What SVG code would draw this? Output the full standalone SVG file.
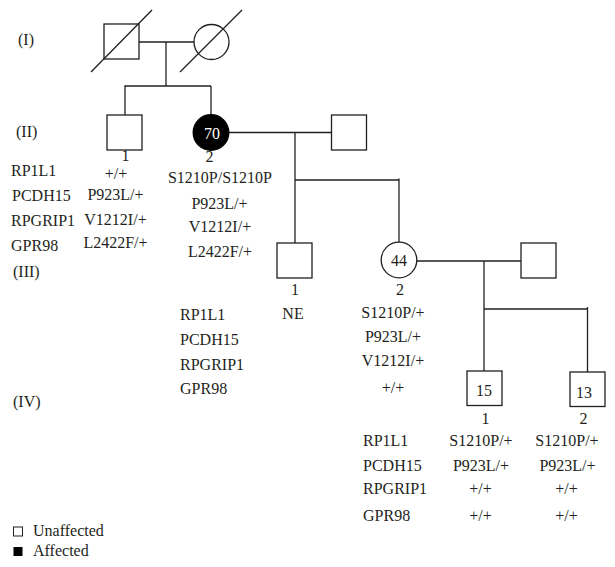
<svg xmlns="http://www.w3.org/2000/svg" width="615" height="567" viewBox="0 0 615 567">
<style>
text{font-family:"Liberation Serif","Times New Roman",serif;font-size:16px;fill:#231f20}
.m{text-anchor:middle}
.w{fill:#fff}
.s{fill:#fff;stroke:#231f20;stroke-width:1.3}
.f{fill:#000;stroke:#000;stroke-width:1.3}
.ln{fill:none;stroke:#231f20;stroke-width:1.3}
</style>
<rect width="615" height="567" fill="#fff"/>
<g id="gen-labels">
<text x="18" y="45">(I)</text>
<text x="16" y="137">(II)</text>
<text x="13" y="277">(III)</text>
<text x="13" y="407">(IV)</text>
</g>
<g id="connectors" class="ln">
<line x1="139" y1="42" x2="194" y2="42"/>
<line x1="166" y1="42" x2="166" y2="86"/>
<line x1="124.5" y1="86" x2="211" y2="86"/>
<line x1="125" y1="86" x2="125" y2="115"/>
<line x1="211" y1="86" x2="211" y2="115"/>
<line x1="229" y1="132.5" x2="331.5" y2="132.5"/>
<line x1="295" y1="132.5" x2="295" y2="243"/>
<line x1="295" y1="180" x2="399" y2="180"/>
<line x1="399" y1="178.5" x2="399" y2="242"/>
<line x1="417" y1="261" x2="521" y2="261"/>
<line x1="484" y1="261" x2="484" y2="371"/>
<line x1="484" y1="309" x2="587.5" y2="309"/>
<line x1="587.5" y1="307" x2="587.5" y2="372"/>
</g>
<g id="I-1">
<rect class="s" x="104" y="24" width="35" height="35"/>
<line class="ln" x1="91" y1="72" x2="152" y2="10"/>
</g>
<g id="I-2">
<circle class="s" cx="211.5" cy="42" r="17.5"/>
<line class="ln" x1="180" y1="72" x2="242" y2="10"/>
</g>
<g id="II-1">
<rect class="s" x="107" y="115" width="35" height="35"/>
<text class="m" x="125.5" y="161">1</text>
<text class="m" x="116" y="178.5">+/+</text>
<text class="m" x="115.5" y="200">P923L/+</text>
<text class="m" x="115.5" y="225">V1212I/+</text>
<text class="m" x="115.5" y="248">L2422F/+</text>
</g>
<g id="II-2">
<circle class="f" cx="211" cy="132.5" r="17.8"/>
<text class="m w" x="212" y="138.5">70</text>
<text class="m" x="209.5" y="162">2</text>
<text class="m" x="220" y="183">S1210P/S1210P</text>
<text class="m" x="219.5" y="209">P923L/+</text>
<text class="m" x="220" y="232">V1212I/+</text>
<text class="m" x="220" y="257">L2422F/+</text>
</g>
<g id="II-3">
<rect class="s" x="331.5" y="115" width="35" height="35"/>
</g>
<g id="genes-II">
<text x="11" y="176">RP1L1</text>
<text x="12" y="201">PCDH15</text>
<text x="11" y="226">RPGRIP1</text>
<text x="11" y="251">GPR98</text>
</g>
<g id="III-1">
<rect class="s" x="277" y="243" width="35" height="35"/>
<text class="m" x="295" y="295">1</text>
<text class="m" x="293" y="319">NE</text>
</g>
<g id="III-2">
<circle class="s" cx="399" cy="260" r="17.8"/>
<text class="m" x="399" y="265.5">44</text>
<text class="m" x="400" y="295">2</text>
<text class="m" x="393" y="318">S1210P/+</text>
<text class="m" x="393" y="342">P923L/+</text>
<text class="m" x="393" y="366">V1212I/+</text>
<text class="m" x="393" y="393">+/+</text>
</g>
<g id="III-3">
<rect class="s" x="521" y="243" width="35" height="35"/>
</g>
<g id="genes-III">
<text x="180" y="320">RP1L1</text>
<text x="180" y="345">PCDH15</text>
<text x="180" y="370">RPGRIP1</text>
<text x="180" y="394">GPR98</text>
</g>
<g id="IV-1">
<rect class="s" x="467" y="371" width="35" height="34.5"/>
<text class="m" x="484" y="395.5">15</text>
<text class="m" x="485.5" y="424">1</text>
<text class="m" x="481" y="446">S1210P/+</text>
<text class="m" x="481" y="471">P923L/+</text>
<text class="m" x="480.5" y="494">+/+</text>
<text class="m" x="480.5" y="521">+/+</text>
</g>
<g id="IV-2">
<rect class="s" x="570" y="372" width="35" height="34.5"/>
<text class="m" x="584" y="397.5">13</text>
<text class="m" x="583.5" y="424">2</text>
<text class="m" x="567" y="446">S1210P/+</text>
<text class="m" x="567.5" y="471">P923L/+</text>
<text class="m" x="566.5" y="494">+/+</text>
<text class="m" x="566.5" y="521">+/+</text>
</g>
<g id="genes-IV">
<text x="363" y="446">RP1L1</text>
<text x="363" y="471">PCDH15</text>
<text x="363" y="494">RPGRIP1</text>
<text x="363" y="521">GPR98</text>
</g>
<g id="legend">
<rect x="13.5" y="527" width="9" height="9" fill="#fff" stroke="#231f20" stroke-width="1"/>
<text x="33" y="536">Unaffected</text>
<rect x="13.5" y="547" width="9" height="9" fill="#000"/>
<text x="33" y="556">Affected</text>
</g>
</svg>
